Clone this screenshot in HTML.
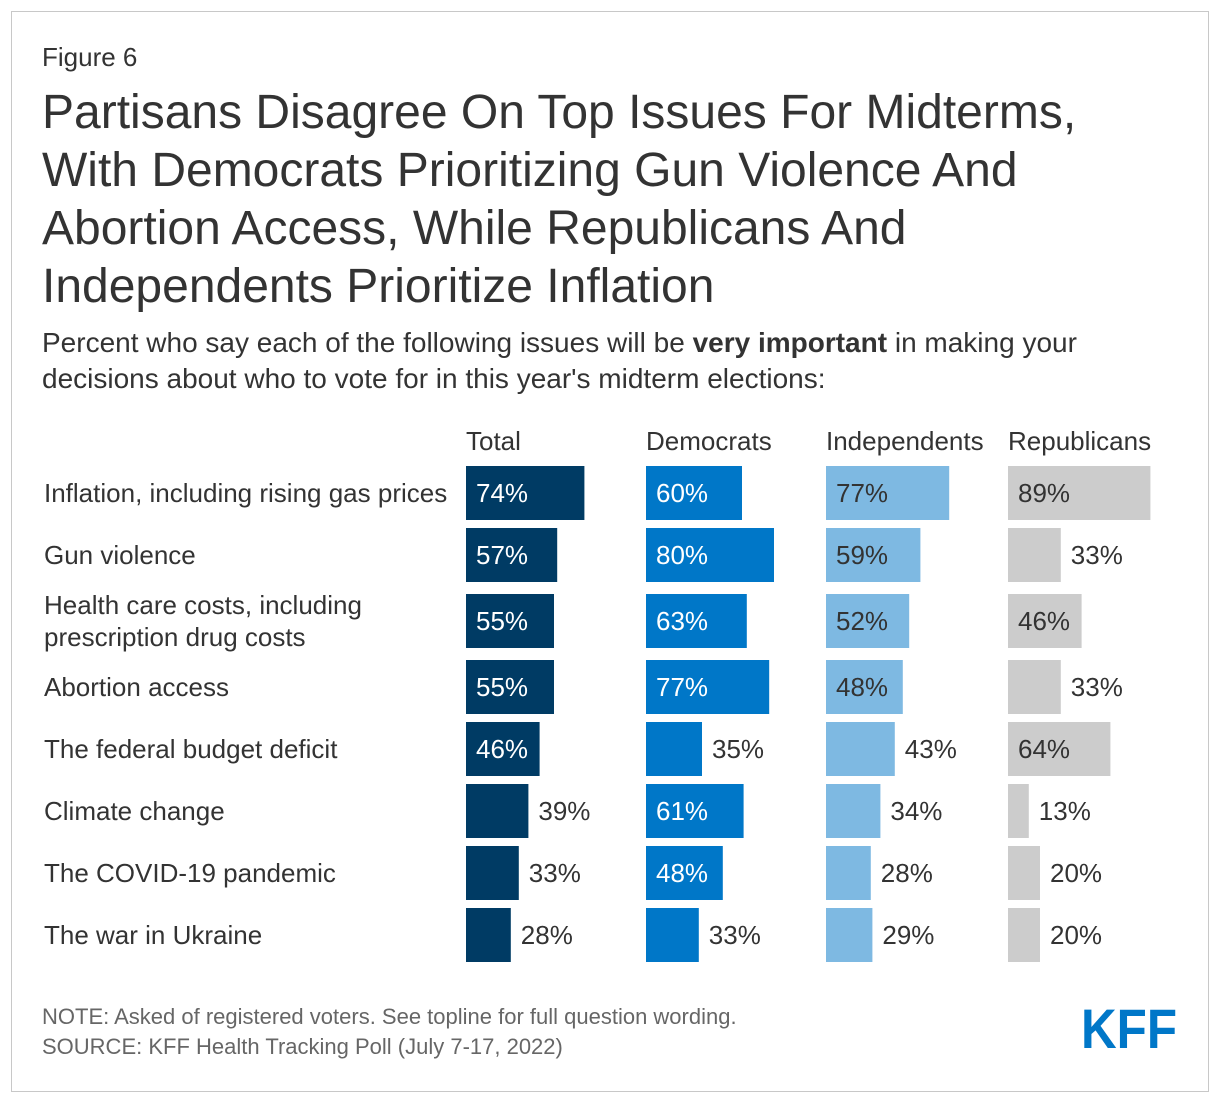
<!DOCTYPE html>
<html><head><meta charset="utf-8"><style>
body{margin:0;width:1220px;height:1104px;background:#fff;font-family:"Liberation Sans",sans-serif;color:#333;position:relative;overflow:hidden}
.frame{position:absolute;left:11px;top:11px;width:1196px;height:1079px;border:1px solid #c8c8c8}
.abs{position:absolute;white-space:nowrap}
</style></head><body>
<div class="frame"></div>
<div class="abs" style="left:42px;top:42px;font-size:26px">Figure 6</div>
<div class="abs" style="left:42px;top:84px;font-size:48px;line-height:58px;white-space:normal;width:1160px">Partisans Disagree On Top Issues For Midterms,<br>With Democrats Prioritizing Gun Violence And<br>Abortion Access, While Republicans And<br>Independents Prioritize Inflation</div>
<div class="abs" style="left:42px;top:325px;font-size:28px;line-height:36px">Percent who say each of the following issues will be <b>very important</b> in making your<br>decisions about who to vote for in this year's midterm elections:</div>
<svg id="chart" class="abs" style="left:0;top:0" width="1220" height="1104"></svg>
<div class="abs" style="left:42px;top:1002px;font-size:22px;line-height:30px;color:#666">NOTE: Asked of registered voters. See topline for full question wording.<br>SOURCE: KFF Health Tracking Poll (July 7-17, 2022)</div>
<svg class="abs" style="left:1078px;top:1004px" width="104" height="48"><text x="3" y="44" font-family="Liberation Sans" font-weight="bold" font-size="56" fill="#0077c8" textLength="96" lengthAdjust="spacingAndGlyphs">KFF</text></svg>
<script>
const categories=[["Inflation, including rising gas prices"],["Gun violence"],["Health care costs, including","prescription drug costs"],["Abortion access"],["The federal budget deficit"],["Climate change"],["The COVID-19 pandemic"],["The war in Ukraine"]];
const groups=["Total","Democrats","Independents","Republicans"];
const total=[74,57,55,55,46,39,33,28];
const democrats=[60,80,63,77,35,61,48,33];
const independents=[77,59,52,48,43,34,28,29];
const republicans=[89,33,46,33,64,13,20,20];
const series=[total,democrats,independents,republicans];
const colors=["#003b64","#0077c8","#7eb9e2","#cccccc"];
const inText=["#fff","#fff","#333","#333"];
const colX=[466,646,826,1008];
const rowTop=[466,528,594,660,722,784,846,908];
const barH=54;
const xs=v=>v*1.6;
const svg=document.getElementById('chart');
const NS="http://www.w3.org/2000/svg";
function mk(tag,attrs,txt){const e=document.createElementNS(NS,tag);for(const k in attrs)e.setAttribute(k,attrs[k]);if(txt!==undefined)e.textContent=txt;svg.appendChild(e);return e;}
groups.forEach((g,j)=>{
  const t=mk('text',{x:colX[j],y:450,'font-size':26,fill:'#333','font-family':'Liberation Sans'},g);
  
  
});
categories.forEach((c,i)=>{
  const cy=rowTop[i]+barH/2;
  c.forEach((line,k)=>{
    const t=mk('text',{x:44,y:cy+9+(k-(c.length-1)/2)*32,'font-size':26,fill:'#333','font-family':'Liberation Sans'},line);
    
    
  });
  series.forEach((s,j)=>{
    const w=xs(s[i]);
    const r=mk('rect',{x:colX[j],y:rowTop[i],width:w,height:barH,fill:colors[j]});
    
    
    const inside=s[i]>=45;
    const t=mk('text',{x:inside?colX[j]+10:colX[j]+w+10,y:cy+9,'font-size':26,fill:inside?inText[j]:'#333','font-family':'Liberation Sans'},s[i]+'%');
    
    
  });
});
</script>
</body></html>
